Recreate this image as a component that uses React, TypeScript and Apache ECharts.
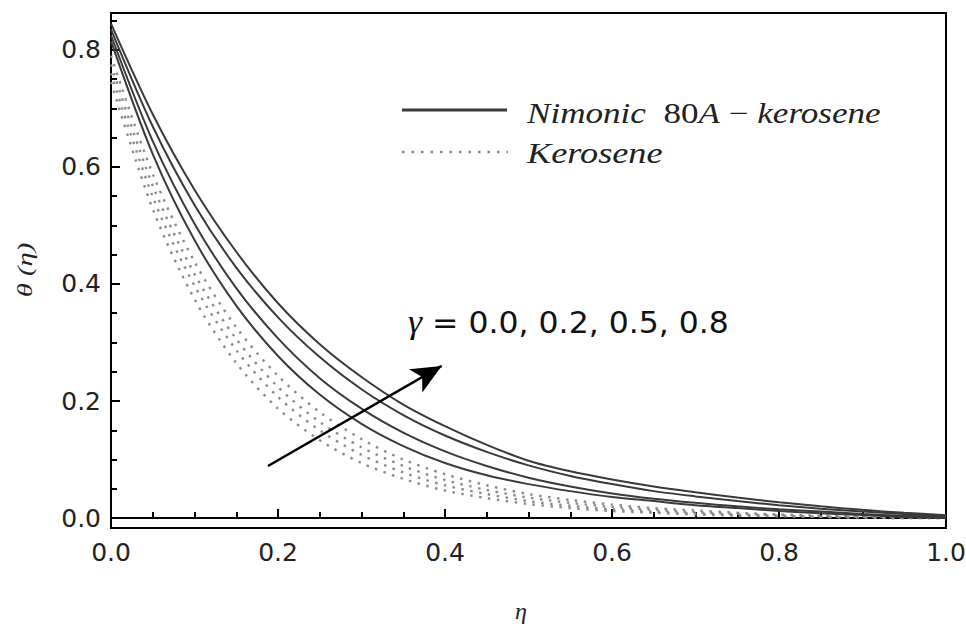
import React, { useEffect, useRef } from "react";
import * as echarts from "echarts";

// eta grid (x values)
const eta = [0, 0.05, 0.1, 0.15, 0.2, 0.25, 0.3, 0.35, 0.4, 0.45, 0.5, 0.55, 0.6, 0.65, 0.7, 0.75, 0.8, 0.85, 0.9, 0.95, 1.0];

// Nimonic 80A - kerosene (solid), gamma = 0.0, 0.2, 0.5, 0.8
const nimonicG00 = [0.815, 0.622, 0.475, 0.363, 0.277, 0.211, 0.161, 0.123, 0.094, 0.073, 0.058, 0.046, 0.036, 0.029, 0.022, 0.017, 0.012, 0.008, 0.005, 0.002, 0.0];
const nimonicG02 = [0.825, 0.644, 0.503, 0.393, 0.307, 0.239, 0.187, 0.146, 0.114, 0.089, 0.069, 0.054, 0.042, 0.033, 0.026, 0.02, 0.015, 0.011, 0.007, 0.004, 0.002];
const nimonicG05 = [0.835, 0.669, 0.535, 0.428, 0.343, 0.275, 0.22, 0.176, 0.141, 0.113, 0.09, 0.072, 0.058, 0.046, 0.037, 0.029, 0.022, 0.016, 0.011, 0.007, 0.003];
const nimonicG08 = [0.845, 0.69, 0.561, 0.455, 0.367, 0.297, 0.241, 0.194, 0.157, 0.125, 0.098, 0.08, 0.066, 0.054, 0.044, 0.035, 0.027, 0.02, 0.014, 0.009, 0.005];

// Kerosene (dotted), gamma = 0.0, 0.2, 0.5, 0.8
const keroseneG00 = [0.745, 0.528, 0.374, 0.265, 0.187, 0.133, 0.094, 0.067, 0.047, 0.034, 0.024, 0.017, 0.012, 0.009, 0.006, 0.004, 0.003, 0.002, 0.001, 0.0, 0.0];
const keroseneG02 = [0.76, 0.549, 0.397, 0.287, 0.207, 0.15, 0.108, 0.078, 0.056, 0.041, 0.029, 0.021, 0.015, 0.011, 0.008, 0.006, 0.004, 0.002, 0.001, 0.0, 0.0];
const keroseneG05 = [0.775, 0.568, 0.417, 0.306, 0.224, 0.164, 0.121, 0.089, 0.065, 0.048, 0.035, 0.026, 0.019, 0.014, 0.01, 0.007, 0.005, 0.003, 0.002, 0.001, 0.0];
const keroseneG08 = [0.79, 0.588, 0.438, 0.326, 0.243, 0.181, 0.135, 0.1, 0.075, 0.056, 0.041, 0.031, 0.023, 0.017, 0.013, 0.009, 0.006, 0.004, 0.003, 0.002, 0.001];

const yTicks = [0, 0.2, 0.4, 0.6, 0.8];
const yMinorTicks = [0, 0.05, 0.1, 0.15, 0.2, 0.25, 0.3, 0.35, 0.4, 0.45, 0.5, 0.55, 0.6, 0.65, 0.7, 0.75, 0.8, 0.85];

// arrow annotation (data coords): start -> end
const arrowStart = [0.188, 0.089];
const arrowEnd = [0.396, 0.26];

const legendDotted = "Kerosene";
const gammaText = "0.0, 0.2, 0.5, 0.8";

const TICK_FONT = "'DejaVu Sans', sans-serif";
const SERIF = "'Liberation Serif', 'Times New Roman', serif";

function toPairs(ys: number[]) {
  return eta.map((x, i) => [x, ys[i]]);
}

export default function App() {
  const ref = useRef<HTMLDivElement>(null);
  useEffect(() => {
    if (!ref.current) return;
    const chart = echarts.init(ref.current, undefined, { renderer: "svg" });

    const solidSets = [nimonicG00, nimonicG02, nimonicG05, nimonicG08];
    const dottedSets = [keroseneG00, keroseneG02, keroseneG05, keroseneG08];

    const series: any[] = [];
    dottedSets.forEach((d, i) => {
      series.push({
        type: "line",
        name: "Kerosene γ=" + i,
        data: toPairs(d),
        smooth: 0.3,
        symbol: "none",
        lineStyle: { color: "#8c8c8c", width: 2.4, type: [2.5, 6.5] },
        silent: true,
        z: 2,
      });
    });
    solidSets.forEach((d, i) => {
      series.push({
        type: "line",
        name: "Nimonic γ=" + i,
        data: toPairs(d),
        smooth: 0.3,
        symbol: "none",
        lineStyle: { color: "#3a3a3a", width: 2 },
        silent: true,
        z: 3,
      });
    });
    series.push({
      type: "line",
      data: [],
      silent: true,
      markLine: {
        silent: true,
        symbol: ["none", "arrow"],
        symbolSize: [20, 30],
        label: { show: false },
        lineStyle: { color: "#000", width: 2.5, type: "solid" },
        emphasis: { disabled: true },
        data: [[{ coord: arrowStart }, { coord: arrowEnd }]],
      },
    });

    const option: any = {
      animation: false,
      backgroundColor: "#fff",
      grid: {
        left: 111,
        right: 20,
        top: 13,
        bottom: 102,
        show: true,
        borderColor: "#000",
        borderWidth: 2,
        containLabel: false,
        outerBoundsMode: "none",
      },
      xAxis: {
        type: "value",
        min: 0,
        max: 1,
        interval: 0.2,
        axisLine: { show: true, lineStyle: { color: "#000", width: 2 } },
        axisTick: { show: true, inside: true, length: 9, lineStyle: { color: "#000", width: 2 } },
        minorTick: { show: true, splitNumber: 4, length: 6, lineStyle: { color: "#000", width: 2 } },
        axisLabel: {
          formatter: (v: number) => v.toFixed(1),
          margin: 12,
          fontFamily: TICK_FONT,
          fontSize: 25,
          color: "#222",
          showMinLabel: true,
          showMaxLabel: true,
        },
        splitLine: { show: false },
      },
      yAxis: [
        {
          type: "value",
          min: -0.017,
          max: 0.863,
          axisLine: { show: true, lineStyle: { color: "#000", width: 2 } },
          axisTick: {
            show: true,
            inside: true,
            length: 9,
            customValues: yTicks,
            lineStyle: { color: "#000", width: 2 },
          },
          axisLabel: {
            customValues: yTicks,
            formatter: (v: number) => v.toFixed(1),
            margin: 10,
            fontFamily: TICK_FONT,
            fontSize: 25,
            color: "#222",
          },
          splitLine: { show: false },
        },
        {
          type: "value",
          min: -0.017,
          max: 0.863,
          position: "left",
          axisLine: { show: false },
          axisTick: {
            show: true,
            inside: true,
            length: 6,
            customValues: yMinorTicks,
            lineStyle: { color: "#000", width: 2 },
          },
          axisLabel: { show: false },
          splitLine: { show: false },
        },
      ],
      series,
      graphic: [
        // legend
        {
          type: "line",
          shape: { x1: 402, y1: 110, x2: 507, y2: 110 },
          style: { stroke: "#3a3a3a", lineWidth: 3 },
          silent: true,
        },
        {
          type: "text",
          x: 527,
          y: 113,
          scaleX: 1.21,
          style: {
            text: "{i|Nimonic}{u|  80}{i|A}{u| − }{i|kerosene}",
            verticalAlign: "middle",
            align: "left",
            fill: "#222",
            rich: {
              i: { fontFamily: SERIF, fontStyle: "italic", fontSize: 29, fill: "#222" },
              u: { fontFamily: SERIF, fontSize: 29, fill: "#222" },
            },
          },
          silent: true,
        },
        {
          type: "line",
          shape: { x1: 402, y1: 152, x2: 508, y2: 152 },
          style: { stroke: "#8c8c8c", lineWidth: 2.5, lineDash: [2.5, 7] },
          silent: true,
        },
        {
          type: "text",
          x: 527,
          y: 153,
          scaleX: 1.25,
          style: {
            text: legendDotted,
            verticalAlign: "middle",
            align: "left",
            fill: "#222",
            font: "italic 29px " + SERIF,
          },
          silent: true,
        },
        // gamma annotation
        {
          type: "text",
          x: 408,
          y: 322,
          scaleX: 1.05,
          style: {
            text: "{g|γ}{e| = }{n|" + gammaText + "}",
            verticalAlign: "middle",
            align: "left",
            fill: "#111",
            rich: {
              g: { fontFamily: SERIF, fontStyle: "italic", fontSize: 34, fill: "#111" },
              e: { fontFamily: TICK_FONT, fontSize: 30, fill: "#111" },
              n: { fontFamily: TICK_FONT, fontSize: 30, fill: "#111" },
            },
          },
          silent: true,
        },
        // axis names
        {
          type: "text",
          x: 521,
          y: 611,
          style: {
            text: "η",
            verticalAlign: "middle",
            align: "center",
            fill: "#222",
            font: "italic 24px " + SERIF,
          },
          silent: true,
        },
        {
          type: "text",
          x: 25,
          y: 270,
          rotation: Math.PI / 2,
          scaleX: 1.3,
          style: {
            text: "θ (η)",
            verticalAlign: "middle",
            align: "center",
            fill: "#222",
            font: "italic 22px " + SERIF,
          },
          silent: true,
        },
      ],
    };
    chart.setOption(option);
    return () => chart.dispose();
  }, []);
  return (
    <div
      ref={ref}
      style={{ position: "fixed", left: 0, top: 0, width: 966, height: 630, background: "#fff" }}
    />
  );
}
